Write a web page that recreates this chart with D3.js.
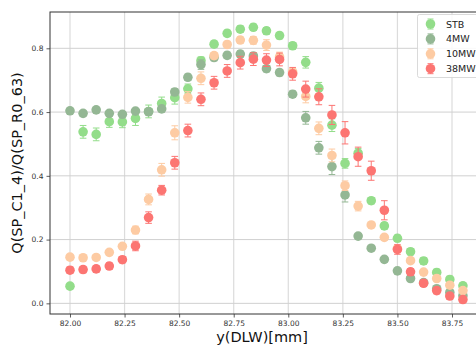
<!DOCTYPE html>
<html><head><meta charset="utf-8">
<script src="https://cdn.jsdelivr.net/npm/d3@7"></script>
<style>body{margin:0;background:#fff;overflow:hidden}svg{display:block}</style>
</head><body><svg id="c" width="476" height="346"></svg>
<script>
const positions = d3.range(31).map(k => +(82 + 0.06 * k).toFixed(2));
const seriesNames = ["STB", "4MW", "10MW", "38MW"];
const seriesColors = ["#93dd8a", "#94b794", "#fdcba3", "#fc7572"];
const stb = [0.054,0.538,0.530,0.570,0.569,0.580,0.602,0.627,0.645,0.673,0.761,0.813,0.847,0.860,0.866,0.855,0.840,0.808,0.756,0.675,0.559,0.439,0.471,0.322,0.243,0.204,0.162,0.133,0.097,0.075,0.055];
const stbErr = [0.008,0.02,0.02,0.018,0.018,0.022,0.02,0.02,0.02,0.015,0.012,0.01,0.01,0.01,0.01,0.01,0.01,0.01,0.018,0.018,0.02,0.015,0.015,0.01,0.01,0.01,0.01,0.01,0.01,0.01,0.01];
const mw4 = [0.604,0.596,0.607,0.596,0.593,0.603,0.601,0.610,0.663,0.709,0.749,0.771,0.778,0.782,0.776,0.736,0.724,0.656,0.582,0.488,0.429,0.340,0.211,0.173,0.138,0.102,0.078,0.065,0.046,0.034,0.024];
const mw4Err = [0.008,0.008,0.008,0.008,0.008,0.008,0.008,0.008,0.01,0.01,0.015,0.01,0.01,0.01,0.01,0.01,0.01,0.01,0.02,0.02,0.025,0.022,0.008,0.008,0.008,0.008,0.008,0.008,0.008,0.008,0.008];
const mw10 = [0.145,0.143,0.144,0.160,0.179,0.230,0.326,0.419,0.535,0.646,0.706,0.777,0.812,0.826,0.825,0.810,0.773,0.726,0.649,0.549,0.464,0.369,0.305,0.246,0.207,0.172,0.134,0.098,0.078,0.057,0.040];
const mw10Err = [0.008,0.008,0.008,0.008,0.008,0.012,0.017,0.02,0.022,0.018,0.02,0.01,0.01,0.01,0.012,0.017,0.015,0.01,0.02,0.02,0.02,0.015,0.015,0.008,0.008,0.008,0.008,0.008,0.008,0.008,0.008];
const mw38 = [0.104,0.106,0.108,0.117,0.137,0.180,0.269,0.355,0.441,0.542,0.640,0.692,0.729,0.755,0.766,0.763,0.765,0.720,0.672,0.648,0.591,0.535,0.460,0.416,0.292,0.169,0.099,0.063,0.040,0.023,0.012];
const mw38Err = [0.01,0.01,0.01,0.01,0.01,0.015,0.018,0.015,0.02,0.02,0.02,0.02,0.02,0.02,0.02,0.02,0.02,0.02,0.025,0.025,0.03,0.035,0.03,0.03,0.03,0.015,0.01,0.01,0.01,0.01,0.01];
const xTicks = [82.00, 82.25, 82.50, 82.75, 83.00, 83.25, 83.50, 83.75];
const yTicks = [0.0, 0.2, 0.4, 0.6, 0.8];

const allValues = [stb, mw4, mw10, mw38];
const allErrs = [stbErr, mw4Err, mw10Err, mw38Err];

const svg = d3.select("#c");
const pL = 50, pR = 483, pT = 12, pB = 314;
const x = d3.scaleLinear().domain([81.9084, 83.892]).range([pL, pR]);
const y = d3.scaleLinear().domain([-0.0334, 0.9139]).range([pB, pT]);

// grid
svg.append("g").selectAll("line").data(xTicks).join("line")
  .attr("x1", d => x(d)).attr("x2", d => x(d)).attr("y1", pT).attr("y2", pB)
  .attr("stroke", "#dcdcdc").attr("stroke-width", 1.2);
svg.append("g").selectAll("line").data(yTicks).join("line")
  .attr("x1", pL).attr("x2", pR).attr("y1", d => y(d)).attr("y2", d => y(d))
  .attr("stroke", "#d0d0d0").attr("stroke-width", 1);

// axes
const xAxis = svg.append("g").attr("transform", `translate(0,${pB})`)
  .call(d3.axisBottom(x).tickValues(xTicks).tickFormat(d3.format(".2f")).tickSize(3.5).tickPadding(3));
const yAxis = svg.append("g").attr("transform", `translate(${pL},0)`)
  .call(d3.axisLeft(y).tickValues(yTicks).tickFormat(d3.format(".1f")).tickSize(3.5).tickPadding(3));
[xAxis, yAxis].forEach(g => {
  g.select(".domain").remove();
  g.selectAll("line").attr("stroke", "#333").attr("stroke-width", 0.8);
  g.selectAll("text").attr("fill", "#333").style("font-family", "DejaVu Sans").style("font-size", "7.5px");
});
// spines
svg.append("rect").attr("x", pL).attr("y", pT).attr("width", pR - pL).attr("height", pB - pT)
  .attr("fill", "none").attr("stroke", "#333").attr("stroke-width", 1);

// series
allValues.forEach((vals, si) => {
  const g = svg.append("g");
  const col = seriesColors[si];
  const errs = allErrs[si];
  vals.forEach((v, i) => {
    const cx = x(positions[i]);
    const e = errs[i];
    g.append("line").attr("x1", cx).attr("x2", cx).attr("y1", y(v - e)).attr("y2", y(v + e))
      .attr("stroke", col).attr("stroke-width", 1);
    [v - e, v + e].forEach(w => g.append("line").attr("x1", cx - 3.3).attr("x2", cx + 3.3)
      .attr("y1", y(w)).attr("y2", y(w)).attr("stroke", col).attr("stroke-width", 1));
  });
  g.selectAll("circle").data(vals).join("circle")
    .attr("cx", (d, i) => x(positions[i])).attr("cy", d => y(d)).attr("r", 4.8)
    .attr("fill", col);
});

// legend
const lg = svg.append("g");
lg.append("rect").attr("x", 417.5).attr("y", 14.5).attr("width", 70).attr("height", 63).attr("rx", 2)
  .attr("fill", "rgba(255,255,255,0.85)").attr("stroke", "#d0d0d0").attr("stroke-width", 0.8);
seriesNames.forEach((n, i) => {
  const cy = 24 + i * 14.9;
  const col = seriesColors[i];
  lg.append("line").attr("x1", 430.5).attr("x2", 430.5).attr("y1", cy - 5).attr("y2", cy + 5).attr("stroke", col);
  [cy - 5, cy + 5].forEach(w => lg.append("line").attr("x1", 427.5).attr("x2", 433.5).attr("y1", w).attr("y2", w).attr("stroke", col));
  lg.append("circle").attr("cx", 430.5).attr("cy", cy).attr("r", 4.8).attr("fill", col);
  lg.append("text").attr("x", 446).attr("y", cy + 3.5).text(n)
    .attr("fill", "#222").style("font-family", "DejaVu Sans").style("font-size", "9.5px");
});

// axis labels
svg.append("text").attr("x", 262).attr("y", 342).attr("text-anchor", "middle").text("y(DLW)[mm]")
  .attr("fill", "#111").style("font-family", "DejaVu Sans").style("font-size", "14.5px");
svg.append("text").attr("transform", "translate(22,163) rotate(-90)").attr("text-anchor", "middle")
  .text("Q(SP_C1_4)/Q(SP_R0_63)").attr("fill", "#111").style("font-family", "DejaVu Sans").style("font-size", "14.5px");
</script></body></html>
